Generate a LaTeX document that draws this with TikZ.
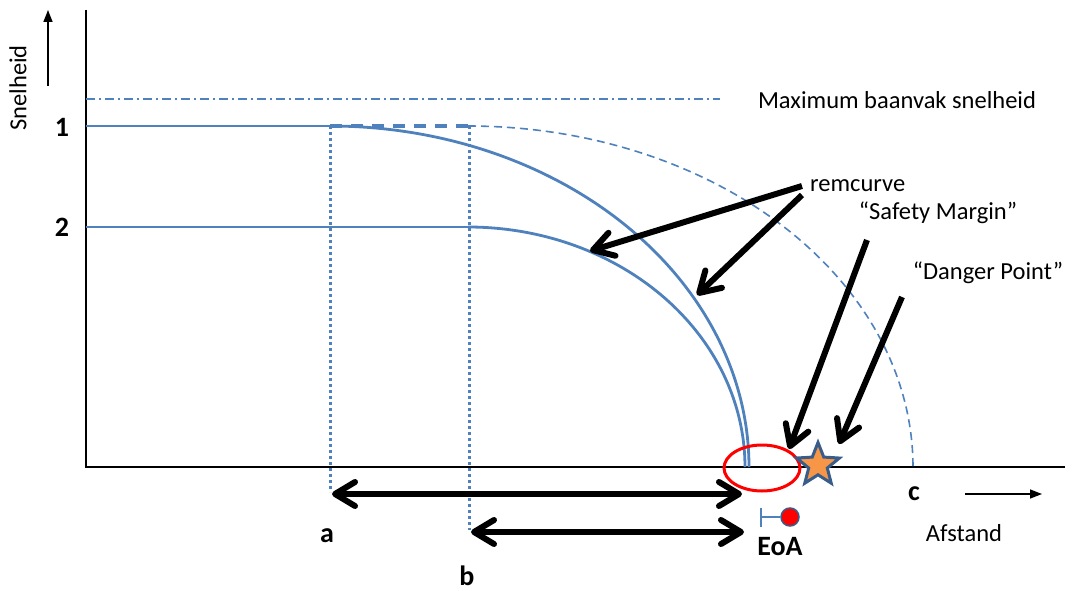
\documentclass[tikz,border=0pt]{standalone}
\usepackage{fontspec}
\setmainfont{Carlito}
\usetikzlibrary{arrows.meta,shapes.geometric}
\definecolor{cblue}{RGB}{79,129,189}
\definecolor{cdark}{RGB}{56,93,138}
\definecolor{corange}{RGB}{247,150,70}
\definecolor{cred}{RGB}{255,0,0}
\tikzset{
  barbtip/.tip={Straight Barb[round,length=20pt,width=24pt]},
  lbl/.style={font=\fontsize{24.5}{28}\selectfont, inner sep=0pt},
  blbl/.style={font=\fontsize{28}{32}\selectfont\bfseries, inner sep=0pt},
  axis/.style={black, line width=1.5pt},
  smallarrow/.style={black, line width=1.5pt, -{Triangle[length=12pt,width=9pt]}},
  curve/.style={cblue, line width=2.8pt},
  thindash/.style={cblue, line width=1.6pt, dash pattern=on 8pt off 5pt},
  thickdash/.style={cblue, line width=3.2pt, dash pattern=on 12pt off 9pt},
  dotline/.style={cblue, line width=3pt, dash pattern=on 3pt off 3pt},
  maxline/.style={cblue, line width=1.6pt, dash pattern=on 9pt off 4pt on 2pt off 4pt},
  bigarrow/.style={black, line width=6pt, -barbtip},
  dblarrow/.style={black, line width=6pt, barbtip-barbtip},
}
\begin{document}
\begin{tikzpicture}[x=1pt,y=-1pt]
\useasboundingbox (0,0) rectangle (1074,591);
% axes
\coordinate (O) at (86,467);
\coordinate (Ytop) at (86,10);
\coordinate (Xend) at (1065,467);
\draw[axis] (Ytop) -- (O) -- (Xend);
% axis labels
\node[lbl, rotate=90] (snel) at (18,88) {Snelheid};
\coordinate (sa0) at (48,86);
\coordinate (sa1) at (48,10);
\draw[smallarrow] (sa0) -- (sa1);
\node[blbl] (one) at (62,127) {1};
\node[blbl] (two) at (62,227) {2};
% maximum line
\coordinate (m0) at (86,99);
\coordinate (m1) at (720,99);
\draw[maxline] (m0) -- (m1);
\node[lbl] (maxt) at (897,100) {Maximum baanvak snelheid};
% curves
\coordinate (v1a) at (86,126);
\coordinate (v1b) at (330,126);
\coordinate (v1c) at (468,126);
\coordinate (v2a) at (86,227);
\coordinate (v2b) at (468,227);
\draw[curve] (v1a) -- (v1b);
\draw[curve] plot[domain=90:0, samples=90, smooth] ({330+419*cos(\x)}, {467-341*sin(\x)});
\draw[curve] (v2a) -- (v2b);
\draw[curve] plot[domain=90:0, samples=90, smooth] ({468+277*cos(\x)}, {467-240*sin(\x)});
\draw[thickdash] (v1b) -- (v1c);
\draw[thindash] plot[domain=90:0, samples=90, smooth] ({468+445*cos(\x)}, {467-341*sin(\x)});
% dotted verticals
\coordinate (da) at (330,492);
\coordinate (db) at (469,530);
\draw[dotline] (v1b) -- (da);
\draw[dotline] (469,126) -- (db);
% double arrows
\coordinate (a0) at (332,494);
\coordinate (a1) at (742,494);
\coordinate (b0) at (471,532);
\coordinate (b1) at (744,532);
\draw[dblarrow] (a0) -- (a1);
\draw[dblarrow] (b0) -- (b1);
\node[blbl] (la) at (327,536) {a};
\node[blbl] (lb) at (467,576) {b};
\node[blbl] (lc) at (914,494) {c};
\coordinate (c0) at (965,494);
\coordinate (c1) at (1042,494);
\draw[smallarrow] (c0) -- (c1);
\node[lbl] (afst) at (964,533) {Afstand};
% red ellipse, star
\node[draw=cred, line width=3pt, ellipse, minimum width=76pt, minimum height=46pt, inner sep=0pt] (ell) at (762,468) {};
\node[star, star points=5, star point ratio=2.3, minimum size=45pt, inner sep=0pt, fill=corange, draw=cdark, line width=3pt] (star) at (818,465) {};
% EoA marker
\coordinate (e0) at (761,508);
\coordinate (e1) at (761,527);
\coordinate (e2) at (761,517);
\node[circle, fill=cred, draw=cdark, line width=1.5pt, minimum size=18pt, inner sep=0pt] (dot) at (790,517) {};
\draw[cblue, line width=2pt] (e0) -- (e1);
\draw[cblue, line width=2pt] (e2) -- (dot.west);
\node[blbl] (eoa) at (780,547) {EoA};
% labels and arrows
\node[lbl, anchor=west] (rem) at (810,186) {remcurve};
\node[lbl] (safe) at (938,213) {“Safety Margin”};
\node[lbl] (dang) at (988,273) {“Danger Point”};
\coordinate (r1s) at (802,186);
\coordinate (r1e) at (590,251);
\coordinate (r2s) at (802,195);
\coordinate (r2e) at (697,295);
\coordinate (ss) at (867,240);
\coordinate (se) at (789,449);
\coordinate (ds) at (902,297);
\coordinate (de) at (839,444);
\draw[bigarrow] (r1s) -- (r1e);
\draw[bigarrow] (r2s) -- (r2e);
\draw[bigarrow] (ss) -- (se);
\draw[bigarrow] (ds) -- (de);
\end{tikzpicture}
\end{document}
